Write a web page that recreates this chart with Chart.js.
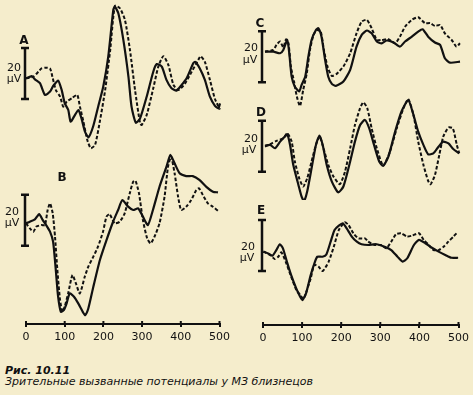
<!DOCTYPE html>
<html>
<head>
<meta charset="utf-8">
<script src="https://cdn.jsdelivr.net/npm/chart.js@4.4.1/dist/chart.umd.min.js"></script>
<style>
  html, body { margin: 0; padding: 0; background: #f5edcc; overflow: hidden; }
  #fig { position: relative; width: 473px; height: 395px; font-family: "DejaVu Sans", Verdana, sans-serif; color: #111; }
  #fig canvas { position: absolute; }
  .lbl { position: absolute; font-size: 11px; line-height: 11px; transform: translate(-50%, -50%); white-space: nowrap; }
  .lbl.big { font-weight: bold; font-size: 12px; }
  #caption { position: absolute; left: 5px; top: 365px; font-size: 11px; line-height: 11px; font-style: italic; }
</style>
</head>
<body>
<div id="fig">
  <canvas id="chartA" width="222" height="160"></canvas>
  <canvas id="chartB" width="222" height="198"></canvas>
  <canvas id="chartC" width="224" height="120"></canvas>
  <canvas id="chartD" width="224" height="110"></canvas>
  <canvas id="chartE" width="224" height="149"></canvas>
  <div id="caption"><b>Рис. 10.11</b><br>Зрительные вызванные потенциалы у МЗ близнецов</div>
</div>
<script>
// time axis, ms
const xTicks = [0, 100, 200, 300, 400, 500];
const barSize = 20; // μV calibration bar

// A
const aSolidMs = [0, 15, 23, 36, 49, 62, 70, 83, 92, 100, 109, 115, 126, 135, 143, 152, 161, 173, 186, 199, 212, 225, 229, 238, 251, 264, 272, 283, 294, 311, 328, 337, 350, 362, 375, 388, 401, 414, 431, 436, 448, 461, 474, 487, 496, 500];
const aSolidUv = [8.1, 9.0, 7.7, 6.2, 1.6, 2.9, 5.1, 7.2, 3.5, -1.7, -4.3, -8.9, -6.3, -4.3, -7.6, -12.8, -15.0, -10.8, -3.0, 4.8, 16.6, 34.9, 36.2, 33.6, 23.1, 8.8, -3.0, -9.3, -7.6, 0.9, 10.7, 13.7, 12.7, 7.5, 4.2, 3.3, 5.5, 8.1, 14.0, 14.6, 12.0, 7.5, 0.9, -2.7, -3.7, -1.7];
const aDashMs = [0, 19, 32, 40, 53, 62, 69, 77, 88, 96, 105, 118, 132, 139, 148, 158, 167, 178, 191, 204, 217, 229, 242, 255, 268, 281, 294, 298, 311, 328, 341, 354, 367, 380, 393, 410, 427, 444, 450, 461, 474, 487, 500];
const aDashUv = [8.1, 8.8, 10.7, 12.0, 12.3, 12.0, 8.1, 3.5, 0.9, -3.0, -1.0, 0.3, 1.6, -3.0, -8.9, -16.1, -19.3, -18.0, -8.2, 3.5, 19.2, 36.5, 35.6, 31.0, 19.2, 3.5, -9.5, -10.2, -6.3, 4.2, 12.7, 16.8, 13.3, 5.5, 3.5, 6.1, 10.7, 15.3, 16.8, 14.6, 7.5, 0.0, -4.1];

// B
const bSolidMs = [0, 10, 23, 34, 43, 52, 62, 70, 77, 83, 90, 98, 105, 113, 124, 135, 148, 153, 161, 174, 191, 208, 225, 238, 249, 264, 277, 290, 302, 315, 328, 345, 363, 373, 384, 397, 414, 431, 448, 466, 483, 496];
const bSolidUv = [8.8, 9.4, 10.3, 12.4, 10.1, 8.1, 5.5, 1.6, -9.5, -20.0, -25.9, -25.2, -22.6, -18.7, -20.0, -22.6, -26.3, -27.2, -24.6, -16.1, -5.6, 2.2, 9.4, 14.0, 17.9, 15.3, 14.0, 14.6, 11.4, 8.1, 14.0, 23.1, 31.0, 35.6, 32.3, 28.4, 27.3, 27.3, 25.8, 23.1, 21.2, 20.9];
const bDashMs = [0, 10, 19, 27, 40, 49, 56, 62, 69, 75, 81, 88, 94, 100, 109, 120, 129, 139, 152, 161, 174, 186, 199, 208, 216, 229, 242, 255, 268, 277, 283, 292, 302, 313, 322, 332, 345, 358, 367, 375, 384, 393, 401, 414, 427, 440, 447, 457, 470, 483, 496];
const bDashUv = [8.8, 6.8, 5.5, 7.5, 8.1, 8.1, 14.0, 16.6, 12.7, 3.5, -9.5, -21.3, -25.9, -23.9, -18.7, -11.5, -14.8, -18.7, -12.1, -8.2, -4.3, -0.4, 5.5, 11.4, 12.4, 8.8, 9.4, 12.7, 20.5, 25.1, 25.5, 20.5, 10.1, 2.9, 0.9, 3.5, 8.8, 19.2, 31.0, 34.9, 28.4, 19.2, 14.0, 15.3, 17.9, 21.8, 22.5, 19.9, 16.6, 15.3, 13.7];

// C
const cSolidMs = [5, 26, 43, 51, 61, 66, 72, 80, 91, 97, 106, 114, 122, 133, 139, 147, 156, 164, 173, 183, 202, 219, 235, 248, 261, 273, 286, 298, 311, 328, 344, 357, 374, 390, 401, 415, 432, 445, 457, 470, 495];
const cSolidUv = [12.0, 12.0, 11.4, 12.7, 16.6, 11.4, 2.2, -1.7, -3.6, -1.0, 2.2, 10.1, 16.6, 20.5, 21.2, 17.9, 8.8, 2.2, -0.6, -1.4, 0.3, 4.9, 14.0, 18.6, 20.3, 19.2, 16.0, 15.3, 16.4, 15.6, 14.0, 16.0, 17.9, 19.9, 20.8, 17.9, 15.6, 14.7, 9.4, 7.7, 8.1];
const cDashMs = [5, 26, 34, 43, 51, 58, 64, 70, 78, 85, 93, 101, 110, 118, 127, 135, 145, 153, 162, 173, 185, 202, 219, 235, 248, 261, 273, 286, 298, 315, 332, 344, 357, 374, 390, 407, 420, 432, 445, 457, 474, 486, 495];
const cDashUv = [12.0, 12.7, 14.7, 16.0, 13.7, 16.9, 15.3, 6.2, 0.3, -5.6, -9.3, -3.0, 3.5, 12.7, 18.6, 20.5, 19.9, 12.7, 6.2, 2.5, 3.3, 6.2, 11.4, 19.2, 23.8, 24.5, 21.2, 16.6, 16.6, 16.9, 15.3, 17.9, 21.8, 24.5, 25.5, 23.2, 23.2, 22.1, 22.5, 19.2, 16.6, 14.0, 15.3];

// D
const dSolidMs = [5, 18, 30, 43, 55, 61, 68, 76, 89, 97, 103, 111, 122, 133, 142, 150, 160, 173, 189, 202, 219, 231, 244, 256, 267, 279, 292, 302, 315, 332, 348, 365, 378, 390, 403, 415, 428, 441, 453, 466, 478, 493];
const dSolidUv = [10.2, 10.5, 9.2, 11.8, 13.8, 14.7, 10.5, 2.7, -5.2, -9.8, -11.5, -7.8, 1.3, 10.5, 14.2, 10.5, 2.7, -3.9, -8.1, -5.8, 4.0, 11.8, 18.3, 20.3, 17.0, 10.5, 4.0, 2.3, 5.9, 15.7, 23.6, 28.1, 22.3, 15.7, 10.5, 6.8, 7.2, 9.8, 11.8, 11.1, 8.9, 7.2];
const dDashMs = [5, 18, 34, 51, 61, 72, 80, 91, 101, 111, 122, 133, 142, 152, 164, 177, 193, 206, 219, 231, 244, 252, 262, 273, 286, 302, 319, 336, 353, 365, 378, 390, 403, 415, 421, 432, 443, 453, 466, 477, 487, 493];
const dDashUv = [9.8, 10.8, 12.1, 13.1, 15.1, 11.8, 4.0, -2.6, -5.8, -2.6, 4.0, 10.5, 13.8, 9.2, 2.7, -1.9, -4.9, 0.0, 9.2, 18.3, 24.9, 27.2, 24.9, 17.0, 9.2, 2.4, 7.9, 17.0, 24.9, 28.5, 22.3, 11.8, 2.7, -3.6, -4.9, -1.3, 6.6, 13.8, 17.3, 17.0, 10.5, 7.2];

// E
const eSolidMs = [1, 13, 24, 34, 43, 51, 61, 72, 85, 95, 101, 110, 122, 133, 139, 152, 162, 173, 183, 194, 204, 214, 227, 240, 252, 269, 290, 311, 328, 344, 357, 369, 386, 399, 415, 432, 449, 466, 482, 499];
const eSolidUv = [7.6, 6.9, 6.0, 8.2, 10.5, 8.9, 3.7, -1.6, -6.8, -10.1, -11.4, -8.8, -1.6, 3.7, 5.6, 5.6, 6.5, 11.5, 16.1, 17.8, 18.7, 16.7, 13.5, 11.5, 10.5, 10.2, 10.5, 9.5, 8.2, 5.6, 3.7, 5.0, 10.2, 12.2, 10.9, 9.1, 7.6, 6.3, 5.2, 5.2];
const eDashMs = [1, 18, 30, 39, 47, 58, 72, 85, 95, 103, 111, 122, 131, 142, 153, 168, 181, 194, 209, 219, 231, 244, 261, 269, 286, 302, 315, 328, 340, 353, 369, 382, 399, 411, 424, 436, 449, 462, 474, 487, 495];
const eDashUv = [7.6, 6.3, 4.7, 5.6, 7.3, 3.7, -2.2, -7.4, -9.4, -11.0, -8.1, -2.9, 2.4, 1.7, 0.0, 3.7, 9.5, 16.1, 19.1, 18.0, 14.8, 12.8, 12.8, 11.5, 10.2, 10.2, 8.9, 11.5, 14.4, 14.8, 13.5, 13.9, 14.8, 12.2, 10.2, 8.2, 8.2, 9.5, 11.5, 13.5, 14.8];

const PX_PER_UV = 2.55;
const INK = "#111";

const columns = {
    left: { left: 12, width: 222, padL: 14, padR: 14 },
    right: { left: 249, width: 224, padL: 14, padR: 11 }
};

const labelPos = [
    { t: "A", x: 24, y: 40, big: true }, { t: "20", x: 14, y: 67 }, { t: "μV", x: 14, y: 78 },
    { t: "B", x: 62, y: 177, big: true }, { t: "20", x: 12, y: 211 }, { t: "μV", x: 12, y: 222 },
    { t: "C", x: 260, y: 23, big: true }, { t: "20", x: 251, y: 47 }, { t: "μV", x: 250, y: 59 },
    { t: "D", x: 261, y: 112, big: true }, { t: "20", x: 251, y: 138 }, { t: "μV", x: 249, y: 149 },
    { t: "E", x: 261, y: 210, big: true }, { t: "20", x: 248, y: 246 }, { t: "μV", x: 247, y: 257 }
];

// calibration bar and the little upward tick stubs, drawn from the scales
const scaleBar = {
    id: "scaleBar",
    afterDraw(chart) {
        const ctx = chart.ctx;
        const area = chart.chartArea;
        const y = chart.scales.y;
        const xs = chart.scales.x;
        const x = area.left - 1;
        const top = y.getPixelForValue(barSize);
        const bot = y.getPixelForValue(0);
        ctx.save();
        ctx.strokeStyle = INK;
        ctx.lineWidth = 2.5;
        ctx.beginPath();
        ctx.moveTo(x, top); ctx.lineTo(x, bot);
        ctx.moveTo(x - 4, top); ctx.lineTo(x + 4, top);
        ctx.moveTo(x - 4, bot); ctx.lineTo(x + 4, bot);
        ctx.stroke();
        if (xs.options.display) {
            ctx.lineWidth = 2;
            ctx.beginPath();
            xTicks.forEach(v => {
                const px = xs.getPixelForValue(v);
                ctx.moveTo(px, area.bottom);
                ctx.lineTo(px, area.bottom - 3);
            });
            ctx.stroke();
        }
        ctx.restore();
    }
};

function toPoints(ms, uv) {
    return ms.map((t, i) => ({ x: t, y: uv[i] }));
}

function makePanel(id, col, top, barBottom, withAxis, solid, dashed) {
    const canvas = document.getElementById(id);
    const c = columns[col];
    const axisH = withAxis ? 24 : 0;
    const plotBottom = top + canvas.height - axisH;
    canvas.style.left = c.left + "px";
    canvas.style.top = top + "px";

    new Chart(canvas, {
        type: "line",
        data: {
            datasets: [
                {
                    data: solid,
                    borderColor: INK,
                    borderWidth: 2.2,
                    pointRadius: 0,
                    tension: 0.2,
                    fill: false,
                    clip: false
                },
                {
                    data: dashed,
                    borderColor: INK,
                    borderWidth: 2,
                    borderDash: [3.5, 2],
                    pointRadius: 0,
                    tension: 0.2,
                    fill: false,
                    clip: false
                }
            ]
        },
        options: {
            responsive: false,
            animation: false,
            devicePixelRatio: 1,
            layout: { padding: { left: c.padL, right: c.padR, top: 0, bottom: 0 } },
            plugins: { legend: { display: false }, tooltip: { enabled: false } },
            scales: {
                x: {
                    type: "linear",
                    min: 0,
                    max: 500,
                    display: withAxis,
                    afterBuildTicks: (scale) => { scale.ticks = xTicks.map(v => ({ value: v })); },
                    afterFit: (scale) => { scale.height = axisH; },
                    border: { display: true, color: INK, width: 2 },
                    grid: { drawOnChartArea: false, drawTicks: true, tickLength: 3, color: INK, lineWidth: 2 },
                    ticks: {
                        color: INK,
                        padding: 4,
                        maxRotation: 0,
                        font: { family: "'DejaVu Sans'", size: 11 }
                    }
                },
                y: {
                    display: false,
                    min: (barBottom - plotBottom) / PX_PER_UV,
                    max: (barBottom - top) / PX_PER_UV
                }
            }
        },
        plugins: [scaleBar]
    });
}

makePanel("chartA", "left", 0, 99, false, toPoints(aSolidMs, aSolidUv), toPoints(aDashMs, aDashUv));
makePanel("chartB", "left", 150, 245.7, true, toPoints(bSolidMs, bSolidUv), toPoints(bDashMs, bDashUv));
makePanel("chartC", "right", 0, 82.3, false, toPoints(cSolidMs, cSolidUv), toPoints(cDashMs, cDashUv));
makePanel("chartD", "right", 90, 171.7, false, toPoints(dSolidMs, dSolidUv), toPoints(dDashMs, dDashUv));
makePanel("chartE", "right", 200, 271, true, toPoints(eSolidMs, eSolidUv), toPoints(eDashMs, eDashUv));

const fig = document.getElementById("fig");
labelPos.forEach(l => {
    const d = document.createElement("div");
    d.className = l.big ? "lbl big" : "lbl";
    d.textContent = l.t;
    d.style.left = l.x + "px";
    d.style.top = l.y + "px";
    fig.appendChild(d);
});
</script>
</body>
</html>
